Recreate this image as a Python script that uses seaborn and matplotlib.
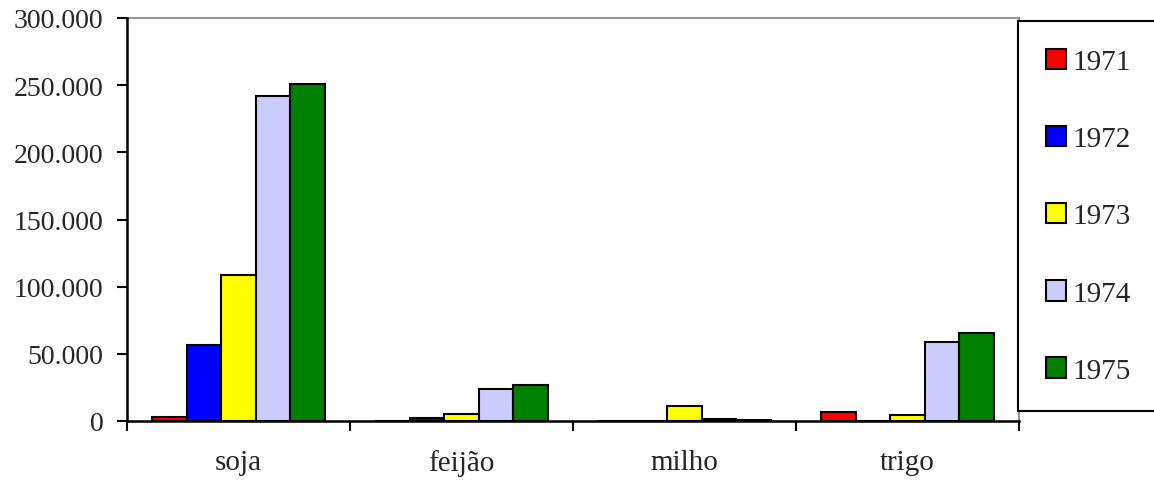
import matplotlib
matplotlib.use("Agg")
import matplotlib.pyplot as plt
import seaborn as sns
import pandas as pd
from matplotlib.ticker import FuncFormatter, FixedLocator

# Production by crop and year
culturas = ["soja", "feijão", "milho", "trigo"]
anos = ["1971", "1972", "1973", "1974", "1975"]
v1971 = [3000, 0, 0, 6500]
v1972 = [56500, 2000, 0, 300]
v1973 = [109000, 5000, 11000, 4500]
v1974 = [242000, 24000, 1500, 58500]
v1975 = [251000, 26500, 1000, 65500]
cores = ["#FF0000", "#0000FF", "#FFFF00", "#CCCCFF", "#008000"]

series = [v1971, v1972, v1973, v1974, v1975]
df = pd.DataFrame(
    [(c, a, v) for a, vals in zip(anos, series) for c, v in zip(culturas, vals)],
    columns=["cultura", "ano", "valor"],
)

sns.set_style("white")
plt.rcParams["font.family"] = ["Liberation Serif", "DejaVu Serif"]
FS_Y = 20
FS = 21

fig = plt.figure(figsize=(11.54, 4.81), dpi=100)
ax = fig.add_axes([127 / 1154, 59 / 481, 892 / 1154, 403 / 481])

sns.barplot(
    data=df, x="cultura", y="valor", hue="ano", order=culturas, hue_order=anos,
    palette=cores, width=0.776, gap=0, edgecolor="black", linewidth=1.5,
    saturation=1, ax=ax, legend=True,
)

ax.set_xlim(-0.5, 3.5)
ax.set_ylim(0, 300000)
ax.set_yticks(range(0, 300001, 50000))
ax.yaxis.set_major_formatter(
    FuncFormatter(lambda v, p: f"{int(v):,}".replace(",", "."))
)
ax.xaxis.set_minor_locator(FixedLocator([-0.5, 0.5, 1.5, 2.5, 3.5]))
ax.tick_params(axis="x", which="major", length=0, pad=20, labelsize=FS)
ax.tick_params(axis="x", which="minor", length=7.5, width=1.5, color="black",
               direction="out", bottom=True)
ax.tick_params(axis="y", length=7, width=1.5, color="black", direction="out",
               left=True, labelsize=FS_Y, pad=10)
ax.set_xlabel("")
ax.set_ylabel("")

for side in ["left", "bottom"]:
    ax.spines[side].set_color("black")
    ax.spines[side].set_linewidth(1.8)
for side in ["top", "right"]:
    ax.spines[side].set_color("#808080")
    ax.spines[side].set_linewidth(1.2)
ax.spines["left"].set_zorder(5)
ax.spines["bottom"].set_zorder(5)

handles, labels = ax.get_legend_handles_labels()
ax.legend(
    handles, labels, loc="upper left",
    bbox_to_anchor=(1018 / 1154, 1 - 22 / 481), bbox_transform=fig.transFigure,
    fontsize=FS, frameon=True, fancybox=False, edgecolor="black",
    framealpha=1, labelspacing=1.74, handlelength=0.7, handleheight=0.7,
    handletextpad=0.2, borderpad=0.95, borderaxespad=0,
)
ax.get_legend().get_frame().set_linewidth(1.5)

fig.savefig("out.png", dpi=100)
